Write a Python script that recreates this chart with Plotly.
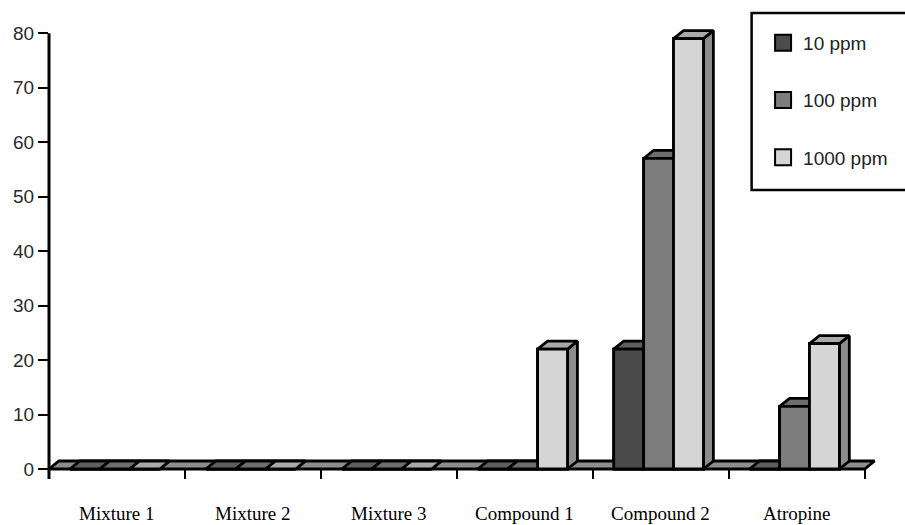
import plotly.graph_objects as go

# ---- data -------------------------------------------------------------
categories = ["Mixture 1", "Mixture 2", "Mixture 3", "Compound 1", "Compound 2", "Atropine"]
series_names = ["10 ppm", "100 ppm", "1000 ppm"]
ppm_10 = [0, 0, 0, 0, 22, 0]
ppm_100 = [0, 0, 0, 0, 57, 11.5]
ppm_1000 = [0, 0, 0, 22, 79, 23]
y_ticks = [0, 10, 20, 30, 40, 50, 60, 70, 80]

series_values = [ppm_10, ppm_100, ppm_1000]

# ---- styling ----------------------------------------------------------
FRONT = ["#4b4b4b", "#7c7c7c", "#d5d5d5"]
TOP = ["#5e5e5e", "#6e6e6e", "#a9a9a9"]
SIDE = ["#3c3c3c", "#5e5e5e", "#8c8c8c"]
FLOOR = "#8e8e8e"
OUTLINE = "black"
EDGE_W = 2.8

BAR_W = 0.22          # bar width, in category units
GROUP_OFFSET = 0.154  # gap before the first bar of each group
DX = 0.073            # oblique depth, horizontal (category units)
DY = 1.47             # oblique depth, vertical (value units)

Y_MIN, Y_MAX = -1.835, 81.5
X_MIN, X_MAX = -0.5, len(categories) - 0.38

W, H = 905, 525
M_L, M_R, M_T, M_B = 49, 20, 25, 46
plot_h = H - M_T - M_B


def poly(xs, ys, fill):
    return go.Scatter(
        x=xs + [xs[0]], y=ys + [ys[0]], mode="lines", fill="toself",
        fillcolor=fill, line=dict(color=OUTLINE, width=EDGE_W),
        hoverinfo="skip", showlegend=False,
    )


fig = go.Figure()

# flat bars carrying the values (covered by the oblique faces below)
for k, (name, vals) in enumerate(zip(series_names, series_values)):
    centers = [i - 0.5 + GROUP_OFFSET + (k + 0.5) * BAR_W for i in range(len(categories))]
    fig.add_trace(go.Bar(
        x=centers, y=vals, width=BAR_W, name=name, showlegend=False,
        marker=dict(color=FRONT[k], line=dict(color=OUTLINE, width=EDGE_W)),
    ))

# floor strip along the category axis
x0, x1 = -0.5, len(categories) - 0.5
fig.add_trace(poly([x0, x1, x1 + DX, x0 + DX], [0, 0, DY, DY], FLOOR))

# oblique bars, painted left to right: side, top, front
for i in range(len(categories)):
    for k in range(len(series_names)):
        v = series_values[k][i]
        left = i - 0.5 + GROUP_OFFSET + k * BAR_W
        right = left + BAR_W
        fig.add_trace(poly([right, right + DX, right + DX, right],
                           [0, DY, v + DY, v], SIDE[k]))
        fig.add_trace(poly([left, right, right + DX, left + DX],
                           [v, v, v + DY, v + DY], TOP[k]))
        if v > 0:
            fig.add_trace(poly([left, right, right, left], [0, 0, v, v], FRONT[k]))

# legend swatches
for k, name in enumerate(series_names):
    fig.add_trace(go.Scatter(
        x=[None], y=[None], mode="markers", name=name, legendgroup=name,
        marker=dict(symbol="square", size=17, color=FRONT[k],
                    line=dict(color=OUTLINE, width=2)),
    ))

# category labels centred under each group
for i, cat in enumerate(categories):
    fig.add_annotation(
        x=i, y=0, xref="x", yref="paper", yshift=-34, yanchor="middle",
        text=cat, showarrow=False, borderpad=0,
        font=dict(family="Liberation Serif, Times New Roman, serif", size=19, color="black"),
    )

y80 = (80 - Y_MIN) / (Y_MAX - Y_MIN)
shapes = [
    # value axis line, running a little below the baseline
    dict(type="line", xref="paper", yref="paper", x0=0, x1=0, y0=0, y1=y80,
         line=dict(color="black", width=3)),
    # legend frame
    dict(type="rect", xref="paper", yref="paper",
         x0=(755 - M_L) / (W - M_L - M_R), x1=(915 - M_L) / (W - M_L - M_R),
         y0=(H - M_B - 190) / plot_h, y1=(H - M_B - 13) / plot_h,
         line=dict(color="black", width=2.5), fillcolor="rgba(0,0,0,0)"),
]

fig.update_layout(
    width=W, height=H,
    margin=dict(l=M_L, r=M_R, t=M_T, b=M_B, pad=0),
    paper_bgcolor="white", plot_bgcolor="white",
    barmode="overlay",
    shapes=shapes,
    showlegend=True,
    legend=dict(
        x=(766.5 - M_L) / (W - M_L - M_R), xanchor="left",
        y=(H - M_B - 24) / plot_h, yanchor="top",
        traceorder="grouped", tracegroupgap=29.5,
        bgcolor="rgba(0,0,0,0)", borderwidth=0,
        font=dict(family="Liberation Sans, Arial, sans-serif", size=19, color="#222"),
    ),
    xaxis=dict(
        range=[X_MIN, X_MAX],
        tickvals=[b - 0.5 for b in range(len(categories) + 1)],
        showticklabels=False, ticks="inside", ticklen=10, tickwidth=2, tickcolor="black",
        showgrid=False, zeroline=False, showline=False,
    ),
    yaxis=dict(
        range=[Y_MIN, Y_MAX], tickvals=y_ticks,
        ticks="outside", ticklen=10, tickwidth=2, tickcolor="black",
        tickfont=dict(family="Liberation Sans, Arial, sans-serif", size=19, color="#2a2a2a"),
        showgrid=False, zeroline=False, showline=False,
    ),
)

fig.write_html("out.html")
